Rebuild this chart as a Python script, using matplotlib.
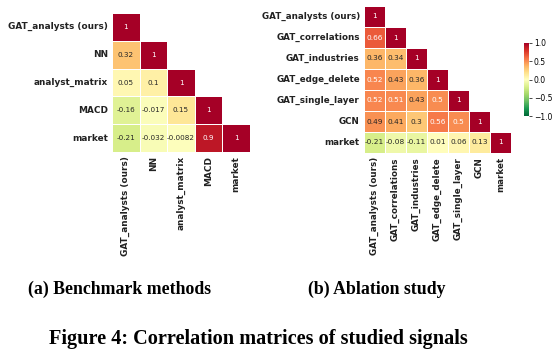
import numpy as np
import matplotlib
matplotlib.use('Agg')
import matplotlib.pyplot as plt
import seaborn as sns

# (a) benchmark methods
labels_a = ['GAT_analysts (ours)', 'NN', 'analyst_matrix', 'MACD', 'market']
corr_a = [
    [1, np.nan, np.nan, np.nan, np.nan],
    [0.32, 1, np.nan, np.nan, np.nan],
    [0.05, 0.1, 1, np.nan, np.nan],
    [-0.16, -0.017, 0.15, 1, np.nan],
    [-0.21, -0.032, -0.0082, 0.9, 1],
]

# (b) ablation study
labels_b = ['GAT_analysts (ours)', 'GAT_correlations', 'GAT_industries',
            'GAT_edge_delete', 'GAT_single_layer', 'GCN', 'market']
corr_b = [
    [1, np.nan, np.nan, np.nan, np.nan, np.nan, np.nan],
    [0.66, 1, np.nan, np.nan, np.nan, np.nan, np.nan],
    [0.36, 0.34, 1, np.nan, np.nan, np.nan, np.nan],
    [0.52, 0.43, 0.36, 1, np.nan, np.nan, np.nan],
    [0.52, 0.51, 0.43, 0.5, 1, np.nan, np.nan],
    [0.49, 0.41, 0.3, 0.56, 0.5, 1, np.nan],
    [-0.21, -0.08, -0.11, 0.01, 0.06, 0.13, 1],
]

W, H = 557, 357
fig = plt.figure(figsize=(W / 100, H / 100), dpi=100)


def box(x0, y0, x1, y1):
    return [x0 / W, 1 - y1 / H, (x1 - x0) / W, (y1 - y0) / H]


def draw(ax, data, labels, fs_lab, fs_ann, cbar_ax=None):
    arr = np.array(data, dtype=float)
    mask = np.triu(np.ones_like(arr, dtype=bool), k=1)
    sns.heatmap(arr, mask=mask, cmap='RdYlGn_r', vmin=-1, vmax=1,
                annot=True, fmt='.2g', annot_kws={'fontsize': fs_ann},
                linewidths=0.6, linecolor='white', square=False,
                xticklabels=labels, yticklabels=labels, ax=ax,
                cbar=cbar_ax is not None, cbar_ax=cbar_ax)
    ax.tick_params(length=0, pad=3)
    for t in ax.get_yticklabels():
        t.set_fontsize(fs_lab)
        t.set_fontweight('bold')
        t.set_rotation(0)
        t.set_color('#222222')
    for t in ax.get_xticklabels():
        t.set_fontsize(fs_lab)
        t.set_fontweight('bold')
        t.set_rotation(90)
        t.set_color('#222222')


ax_a = fig.add_axes(box(112, 13, 250, 152))
draw(ax_a, corr_a, labels_a, 6.4, 5.2)

ax_b = fig.add_axes(box(364, 6, 511, 153))
cax = fig.add_axes(box(524, 43, 529, 116))
draw(ax_b, corr_b, labels_b, 6.3, 5.3, cbar_ax=cax)
cax.tick_params(labelsize=5.5, length=2, width=0.5, pad=1.5)
cax.set_yticks([-1.0, -0.5, 0.0, 0.5, 1.0])
for s in cax.spines.values():
    s.set_visible(False)

cap = dict(family='Liberation Serif', fontweight='bold', ha='center', va='center',
           color='black')
fig.text(119 / W, 1 - 289 / H, '(a) Benchmark methods', fontsize=12.8, **cap)
fig.text(377 / W, 1 - 289 / H, '(b) Ablation study', fontsize=12.8, **cap)
fig.text(258 / W, 1 - 339 / H, 'Figure 4: Correlation matrices of studied signals',
         fontsize=14.6, **cap)

fig.savefig('out.png', dpi=100)
